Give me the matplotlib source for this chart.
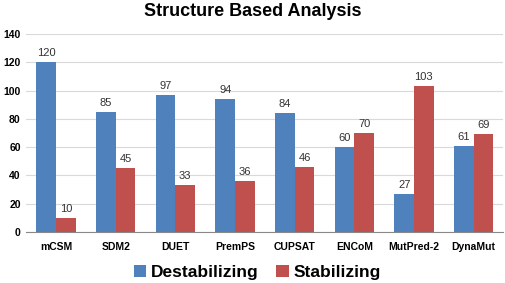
import matplotlib
matplotlib.use("Agg")
import matplotlib.pyplot as plt
import numpy as np

categories = ["mCSM", "SDM2", "DUET", "PremPS", "CUPSAT", "ENCoM", "MutPred-2", "DynaMut"]
destabilizing = [120, 85, 97, 94, 84, 60, 27, 61]
stabilizing = [10, 45, 33, 36, 46, 70, 103, 69]
yticks = [0, 20, 40, 60, 80, 100, 120, 140]

plt.rcParams['font.family'] = ['Liberation Sans', 'DejaVu Sans']

fig = plt.figure(figsize=(5.05, 2.83), dpi=100)
ax = fig.add_axes([0.052, 0.18, 0.945, 0.70])

x = np.arange(len(categories))
w = 0.33
b1 = ax.bar(x - w/2, destabilizing, w, color="#4F81BD", label="Destabilizing", zorder=3)
b2 = ax.bar(x + w/2, stabilizing, w, color="#C0504D", label="Stabilizing", zorder=3)

for rect, v in zip(b1, destabilizing):
    ax.text(rect.get_x() + rect.get_width()/2, v + 3, str(v), ha="center", va="bottom", fontsize=8, color="#333333")
for rect, v in zip(b2, stabilizing):
    ax.text(rect.get_x() + rect.get_width()/2, v + 3, str(v), ha="center", va="bottom", fontsize=8, color="#333333")

ax.set_xlim(-0.5, len(categories) - 0.5)
ax.set_ylim(0, 140)
ax.set_yticks(yticks)
ax.set_xticks(x)
ax.set_xticklabels(categories, fontsize=7.5, fontweight="bold")
for lab in ax.get_yticklabels():
    lab.set_fontsize(7.5)
    lab.set_fontweight("bold")
ax.tick_params(axis="y", length=0, pad=4)
ax.tick_params(axis="x", length=0, pad=7)
ax.yaxis.grid(True, color="#D9D9D9", linewidth=0.8, zorder=0)
for s in ["top", "right", "left"]:
    ax.spines[s].set_visible(False)
ax.spines["bottom"].set_color("#888888")
ax.spines["bottom"].set_zorder(4)

fig.suptitle("Structure Based Analysis", fontsize=13, fontweight="bold", y=0.99)
fig.legend(handles=[b1, b2], loc="lower center", bbox_to_anchor=(0.51, -0.045), ncol=2,
           frameon=False, prop={"size": 12.5, "weight": "bold"}, handlelength=0.7, handleheight=0.7,
           handletextpad=0.3, columnspacing=1.0)

fig.savefig("out.png", dpi=100)
